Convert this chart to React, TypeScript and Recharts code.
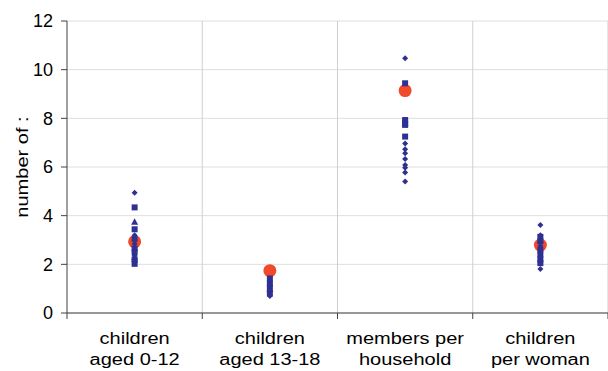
import {
  ScatterChart,
  Scatter,
  XAxis,
  YAxis,
  CartesianGrid,
  ReferenceLine,
} from "recharts";

// category labels (two lines each)
const categories: string[][] = [
  ["children", "aged 0-12"],
  ["children", "aged 13-18"],
  ["members per", "household"],
  ["children", "per woman"],
];

// individual observations per category, split by marker shape
const diamondValues: number[][] = [
  [4.94, 3.2, 2.85, 2.35, 2.1],
  [1.3, 0.9, 0.7],
  [10.47, 6.97, 6.73, 6.56, 6.33, 6.08, 5.97, 5.77, 5.4],
  [3.62, 3.2, 2.75, 1.81],
];
const squareValues: number[][] = [
  [4.34, 3.44, 3.05, 2.65, 2.5, 2.2, 2.02],
  [1.42, 1.2, 1.05, 0.8],
  [9.44, 7.93, 7.83, 7.73, 7.25],
  [3.13, 2.95, 2.6, 2.4, 2.2, 2.05],
];
const triangleValues: number[][] = [[3.75, 2.3], [1.0], [7.8], [3.0]];

// average per category (red dot)
const meanValues: number[] = [2.93, 1.74, 9.14, 2.79];

const yTicks = [0, 2, 4, 6, 8, 10, 12];
const xTicks = [0, 0.5, 1, 1.5, 2, 2.5, 3, 3.5, 4];
const boundaries = [1, 2, 3, 4];

const toPoints = (groups: number[][]) =>
  groups.flatMap((vals, i) => vals.map((v) => ({ x: i + 0.5, y: v })));

const diamondData = toPoints(diamondValues);
const squareData = toPoints(squareValues);
const triangleData = toPoints(triangleValues);
const meanData = meanValues.map((v, i) => ({ x: i + 0.5, y: v }));

const BLUE = "#2e3192";
const RED = "#f04a2a";
const FONT = "'Liberation Sans', Arial, sans-serif";

const DiamondShape = (p: any) => (
  <polygon
    points={`${p.cx},${p.cy - 3} ${p.cx + 3},${p.cy} ${p.cx},${p.cy + 3} ${p.cx - 3},${p.cy}`}
    fill={BLUE}
  />
);
const SquareShape = (p: any) => (
  <rect x={p.cx - 3} y={p.cy - 3} width={6} height={6} fill={BLUE} />
);
const TriangleShape = (p: any) => (
  <polygon
    points={`${p.cx},${p.cy - 3.5} ${p.cx + 3.5},${p.cy + 3} ${p.cx - 3.5},${p.cy + 3}`}
    fill={BLUE}
  />
);
const MeanShape = (p: any) => <circle cx={p.cx} cy={p.cy} r={6.5} fill={RED} />;

const XTick = (props: any) => {
  const { x, y, payload } = props;
  const v = payload.value as number;
  if (Number.isInteger(v)) {
    return <line x1={x} x2={x} y1={y - 6} y2={y} stroke="#404040" />;
  }
  const lines = categories[Math.floor(v)];
  return (
    <g transform={`translate(${x},${y}) scale(1.25,1)`}>
      <text textAnchor="middle" fill="#000" fontSize={16} fontFamily={FONT}>
        <tspan x={0} y={25}>
          {lines[0]}
        </tspan>
        <tspan x={0} y={46}>
          {lines[1]}
        </tspan>
      </text>
    </g>
  );
};

const YLabel = (props: any) => {
  const vb = props.viewBox;
  const cx = vb.x + 22;
  const cy = vb.y + vb.height / 2;
  return (
    <text
      transform={`translate(${cx},${cy}) rotate(-90) scale(1.18,1)`}
      textAnchor="middle"
      dominantBaseline="central"
      fontSize={17}
      fontFamily={FONT}
      fill="#000"
    >
      number of :
    </text>
  );
};

const App = () => {
  return (
    <div style={{ position: "absolute", left: 0, top: 0, background: "#fff" }}>
      <ScatterChart
        width={608}
        height={371}
        margin={{ top: 21, right: 0, bottom: 0, left: 0 }}
      >
        <CartesianGrid vertical={false} stroke="#dedede" />
        {boundaries.map((b) => (
          <ReferenceLine key={b} x={b} stroke="#cfcfcf" />
        ))}
        <XAxis
          type="number"
          dataKey="x"
          domain={[0, 4]}
          ticks={xTicks}
          interval={0}
          height={58}
          tickSize={6}
          tickMargin={0}
          tickLine={false}
          axisLine={{ stroke: "#404040" }}
          tick={<XTick />}
        />
        <YAxis
          type="number"
          dataKey="y"
          domain={[0, 12]}
          ticks={yTicks}
          width={67}
          tickSize={6}
          tickMargin={8}
          axisLine={{ stroke: "#404040" }}
          tickLine={{ stroke: "#404040" }}
          tick={{ fill: "#000", fontSize: 18, fontFamily: FONT }}
          label={<YLabel />}
        />
        <Scatter data={meanData} shape={MeanShape} isAnimationActive={false} />
        <Scatter data={squareData} shape={SquareShape} isAnimationActive={false} />
        <Scatter data={diamondData} shape={DiamondShape} isAnimationActive={false} />
        <Scatter data={triangleData} shape={TriangleShape} isAnimationActive={false} />
      </ScatterChart>
    </div>
  );
};

export default App;
